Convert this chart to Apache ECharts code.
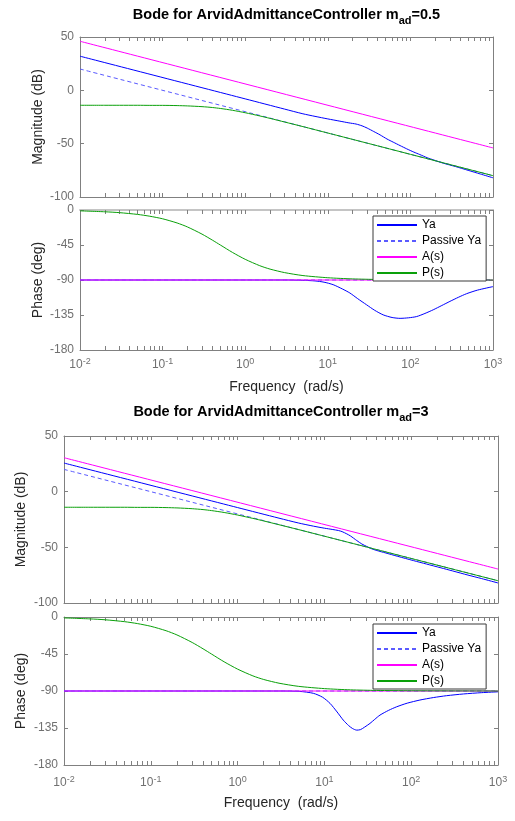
<!DOCTYPE html>
<html>
<head>
<meta charset="utf-8">
<script src="https://cdn.jsdelivr.net/npm/echarts@6/dist/echarts.min.js"></script>
<style>
  html, body { margin: 0; padding: 0; background: #fff; }
  #chart { width: 515px; height: 821px; }
</style>
</head>
<body>
<div id="chart"></div>
<script>
// ---- data -------------------------------------------------------------
const seriesNames = ['Ya', 'Passive Ya', 'A(s)', 'P(s)'];
const magTicks = [50, 0, -50, -100];
const phaseTicks = [0, -45, -90, -135, -180];

// P(s): same plant in both diagrams
const wP = [0.01, 0.02, 0.03, 0.05, 0.07, 0.1, 0.15, 0.2, 0.3, 0.4, 0.5, 0.7, 1, 1.5, 2, 3, 5, 10, 20, 40, 100, 1000];
const pMag = [-14.0, -14.0, -14.0, -14.0, -14.1, -14.1, -14.3, -14.6, -15.3, -16.1, -17.0, -18.7, -21.0, -24.0, -26.3, -29.7, -34.0, -40.0, -46.0, -52.0, -60.0, -80.0];
const pPhase = [-1.1, -2.3, -3.4, -5.7, -8.0, -11.3, -16.7, -21.8, -31.0, -38.7, -45.0, -54.5, -63.4, -71.6, -76.0, -80.5, -84.3, -87.1, -88.6, -89.3, -89.7, -90.0];

// A(s) and passive Ya are pure integrators
const wLine = [0.01, 1000];
const passiveMag = [20.0, -80.0];
const flatPhase = [-90, -90];
const aMag05 = [46.0, -54.0];
const aMag3 = [30.5, -69.5];

// Ya, m_ad = 0.5
const wYaMag05 = [0.01, 1, 3, 5, 7, 10, 14, 18, 22, 26, 30, 36, 43, 52, 62, 75, 90, 110, 130, 160, 190, 250, 350, 500, 700, 1000];
const yaMag05 = [32.0, -8.0, -17.6, -22.0, -24.4, -26.8, -28.9, -30.5, -31.6, -33.3, -35.4, -38.6, -41.8, -45.6, -48.6, -51.8, -54.8, -57.9, -60.2, -63.2, -65.2, -68.3, -71.4, -75.0, -78.4, -82.0];
const wYaPh05 = [0.01, 3, 5, 7, 9, 11.6, 15, 18.5, 23, 29.4, 37, 46.8, 60, 75, 95, 119, 150, 189, 240, 301, 380, 479, 650, 1000];
const yaPh05 = [-90, -90, -90.4, -91.2, -92.8, -96, -101.5, -106.7, -114, -121.8, -129, -134.8, -138.2, -139.3, -138.6, -137, -133, -128.3, -122.8, -117.5, -112.3, -107.6, -103, -98.5];

// Ya, m_ad = 3
const wYaMag3 = [0.01, 1, 3, 5, 7.5, 10, 12.5, 14.5, 16, 18.1, 20, 23.6, 27, 30.7, 35, 42, 50, 70, 106, 150, 220, 300, 450, 650, 1000];
const yaMag3 = [25.7, -14.3, -23.8, -28.1, -31.0, -32.8, -34.0, -34.9, -35.9, -37.9, -39.8, -43.9, -47.0, -49.2, -51.3, -53.3, -54.9, -58.1, -61.9, -65.0, -68.4, -71.2, -74.9, -78.1, -82.0];
const wYaPh3 = [0.01, 3, 5.2, 7.45, 9.5, 11.6, 14, 16.5, 19, 21, 23.6, 26, 29, 33.5, 38, 43.7, 55, 68, 90, 126, 180, 256, 400, 650, 1000];
const yaPh3 = [-90, -90, -90.5, -92.8, -97.5, -105, -115.5, -125.4, -132, -135.5, -137.6, -137, -134, -129.4, -124.5, -119.3, -113.5, -109.2, -104.8, -101, -98, -95.7, -93.6, -92, -91];

// ---- styling ----------------------------------------------------------
const FONT = "'Liberation Sans', Arial, Helvetica, sans-serif";
const AXIS = '#808080';
const TICKTXT = '#707070';
const DARK = '#262626';
const COLORS = { 'Ya': '#0000ff', 'Passive Ya': '#5a5aff', 'A(s)': '#ff00ff', 'P(s)': '#0aa00a' };

const panels = [
  {
    sub: '0.5', titleY: 4,
    left: 80, width: 413,
    magTop: 37, magH: 160, phTop: 210, phH: 140,
    yNameGap: 35, xLabelMargin: 7, xNameGap: 30,
    legend: { left: 373, top: 216 },
    lightTop: true,
    yaMag: [wYaMag05, yaMag05], aMag: aMag05, yaPh: [wYaPh05, yaPh05]
  },
  {
    sub: '3', titleY: 401,
    left: 64, width: 434,
    magTop: 436, magH: 167, phTop: 617, phH: 148,
    yNameGap: 36, xLabelMargin: 10, xNameGap: 31,
    legend: { left: 373, top: 624 },
    lightTop: false,
    yaMag: [wYaMag3, yaMag3], aMag: aMag3, yaPh: [wYaPh3, yaPh3]
  }
];

// minor log tick positions (2..9 within each decade), in log10 units
const minorLog = [];
for (let n = -2; n < 3; n++) for (let k = 2; k < 10; k++) minorLog.push(Math.log10(k) + n);

const pairs = (xs, ys) => xs.map((x, i) => [x, ys[i]]);

const grids = [], xAxes = [], yAxes = [], series = [], legends = [], graphics = [];

function addGrid(p, top, height, isPhase, lightTop) {
  const g = grids.length;
  grids.push({ left: p.left, top: top, width: p.width, height: height, containLabel: false });
  const tick = { inside: true, length: 4, lineStyle: { color: AXIS, width: 1 } };
  const line = { show: true, onZero: false, lineStyle: { color: AXIS, width: 1 } };
  const xi = xAxes.length;
  // bottom decade axis (carries data and labels)
  xAxes.push({
    type: 'log', logBase: 10, min: 0.01, max: 1000, gridIndex: g, position: 'bottom',
    axisLine: line, axisTick: tick, splitLine: { show: false },
    axisLabel: isPhase ? {
      show: true, margin: p.xLabelMargin,
      formatter: v => '{b|10}{s|' + Math.round(Math.log10(v)) + '}',
      rich: {
        b: { fontSize: 12, fontFamily: FONT, color: TICKTXT, lineHeight: 16 },
        s: { fontSize: 9, fontFamily: FONT, color: TICKTXT, lineHeight: 6, verticalAlign: 'top' }
      }
    } : { show: false },
    name: isPhase ? 'Frequency  (rad/s)' : '',
    nameLocation: 'middle', nameGap: p.xNameGap, nameMoveOverlap: false,
    nameTextStyle: { fontSize: 14, fontFamily: FONT, color: DARK }
  });
  // top decade axis (box edge)
  xAxes.push({
    type: 'log', logBase: 10, min: 0.01, max: 1000, gridIndex: g, position: 'top',
    axisLine: lightTop ? { show: true, onZero: false, lineStyle: { color: '#c4c4c4', width: 2 } } : line,
    axisTick: tick, axisLabel: { show: false }, splitLine: { show: false }
  });
  // minor ticks, bottom and top
  ['bottom', 'top'].forEach(pos => xAxes.push({
    type: 'value', min: -2, max: 3, gridIndex: g, position: pos,
    axisLine: { show: false, onZero: false }, axisLabel: { show: false }, splitLine: { show: false },
    axisTick: { show: true, inside: true, length: 4, customValues: minorLog, lineStyle: { color: AXIS } }
  }));
  const yi = yAxes.length;
  const yBase = isPhase ? { min: -180, max: 0, interval: 45 } : { min: -100, max: 50, interval: 50 };
  yAxes.push(Object.assign({
    type: 'value', gridIndex: g, position: 'left',
    axisLine: line, axisTick: tick, splitLine: { show: false },
    axisLabel: { margin: 6, fontSize: 12, fontFamily: FONT, color: TICKTXT },
    name: isPhase ? 'Phase (deg)' : 'Magnitude (dB)',
    nameLocation: 'middle', nameGap: p.yNameGap, nameRotate: 90, nameMoveOverlap: false,
    nameTextStyle: { fontSize: 14, fontFamily: FONT, color: DARK }
  }, yBase));
  yAxes.push(Object.assign({
    type: 'value', gridIndex: g, position: 'right',
    axisLine: line, axisTick: tick, splitLine: { show: false }, axisLabel: { show: false }
  }, yBase));
  return { xi, yi };
}

function addLine(name, data, ax) {
  series.push({
    type: 'line', name: name, data: data,
    xAxisIndex: ax.xi, yAxisIndex: ax.yi,
    symbol: 'none', smooth: 0.25, clip: true,
    lineStyle: { color: COLORS[name], width: 1, type: name === 'Passive Ya' ? [4, 3] : 'solid' },
    itemStyle: { color: COLORS[name] },
    emphasis: { disabled: true }, silent: true
  });
}

panels.forEach(p => {
  // title with subscript
  graphics.push({
    type: 'text', x: p.left + p.width / 2, y: p.titleY,
    style: {
      text: '{b|Bode for ArvidAdmittanceController m}{s|ad}{b|=' + p.sub + '}',
      align: 'center', verticalAlign: 'top',
      rich: {
        b: { fontSize: 14.5, fontWeight: 'bold', fontFamily: FONT, fill: '#000', color: '#000', lineHeight: 22 },
        s: { fontSize: 11, fontWeight: 'bold', fontFamily: FONT, fill: '#000', color: '#000', lineHeight: 6, verticalAlign: 'bottom' }
      }
    }
  });

  const mag = addGrid(p, p.magTop, p.magH, false, false);
  addLine('Ya', pairs(p.yaMag[0], p.yaMag[1]), mag);
  addLine('Passive Ya', pairs(wLine, passiveMag), mag);
  addLine('A(s)', pairs(wLine, p.aMag), mag);
  addLine('P(s)', pairs(wP, pMag), mag);

  const ph = addGrid(p, p.phTop, p.phH, true, p.lightTop);
  addLine('Ya', pairs(p.yaPh[0], p.yaPh[1]), ph);
  addLine('Passive Ya', pairs(wLine, flatPhase), ph);
  addLine('A(s)', pairs(wLine, flatPhase), ph);
  addLine('P(s)', pairs(wP, pPhase), ph);

  legends.push({
    data: seriesNames, orient: 'vertical',
    left: p.legend.left, top: p.legend.top,
    itemWidth: 40, itemHeight: 12, itemGap: 4,
    padding: [3, 5, 2, 3],
    borderColor: '#3a3a3a', borderWidth: 1, backgroundColor: '#ffffff',
    selectedMode: false,
    itemStyle: { opacity: 0 },
    textStyle: { fontSize: 12, fontFamily: FONT, color: '#000' }
  });
});

const chart = echarts.init(document.getElementById('chart'), null, { renderer: 'canvas' });
chart.setOption({
  animation: false,
  backgroundColor: '#ffffff',
  grid: grids, xAxis: xAxes, yAxis: yAxes,
  legend: legends, series: series, graphic: graphics
});
</script>
</body>
</html>
